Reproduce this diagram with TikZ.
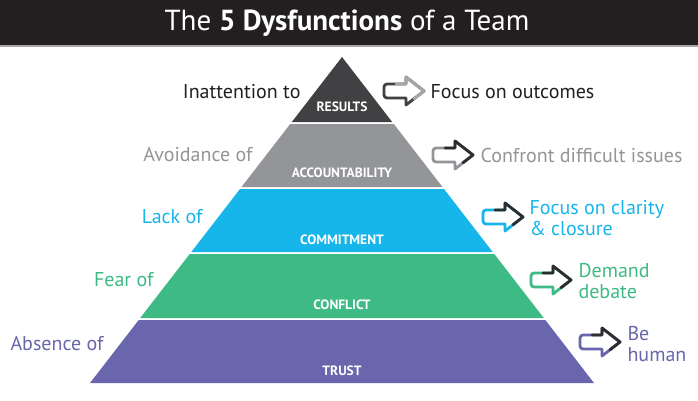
\documentclass[tikz,border=0pt]{standalone}
\usepackage{fontspec}
\setmainfont{PT Sans}
\definecolor{titlebg}{HTML}{231F20}
\definecolor{cres}{HTML}{414042}
\definecolor{cacc}{HTML}{939598}
\definecolor{ccom}{HTML}{16B6EA}
\definecolor{ccon}{HTML}{3EBA85}
\definecolor{ctru}{HTML}{6A66AD}
\definecolor{ctxt}{HTML}{231F20}
\definecolor{chead}{HTML}{2E2C2D}
\tikzset{
  layerlbl/.style={text=white, font=\bfseries\fontsize{13.5}{13.5}\selectfont, anchor=base},
  lefttxt/.style={anchor=east, font=\fontsize{20}{21}\selectfont},
  righttxt/.style={anchor=west, align=left, font=\fontsize{20}{21}\selectfont},
  pics/blockarrow/.style n args={2}{code={
    \draw[#1, line width=2.8pt, line join=round, fill=white]
      (22,-7) [rounded corners=3pt] -- (0,-7) -- (0,7) [sharp corners] -- (22,7) -- (22,14) -- (40,0) -- (22,-14) -- cycle;
    \draw[#2, line width=2.8pt, line join=round, line cap=round]
      (12,-7) -- (22,-7) -- (22,-14) -- (40,0) -- (30,7.7);
  }}
}
\begin{document}
\begin{tikzpicture}[x=1pt,y=-1pt]
\useasboundingbox (0,0) rectangle (698,400);
\fill[white] (0,0) rectangle (698,400);
% title bar
\fill[titlebg] (0,0) rectangle (698,45);
\fill[gray!70] (0,45) rectangle (698,46.5);
\node[text=white, font=\fontsize{29}{30}\selectfont] (title) at (347,23) {The \textbf{5 Dysfunctions} of a Team};
% pyramid layers
\fill[cres] (342,57) -- (392.2,122) -- (291.8,122) -- cycle;
\fill[cacc] (290.2,124) -- (393.8,124) -- (442.5,187) -- (241.5,187) -- cycle;
\fill[ccom] (240,189) -- (444,189) -- (492.7,252) -- (191.3,252) -- cycle;
\fill[ccon] (189.7,254) -- (494.3,254) -- (543.8,318) -- (140.2,318) -- cycle;
\fill[ctru] (138.7,320) -- (545.3,320) -- (594,383) -- (90,383) -- cycle;
% layer labels
\node[layerlbl] (lres) at (342,111) {RESULTS};
\node[layerlbl] (lacc) at (342,177) {ACCOUNTABILITY};
\node[layerlbl] (lcom) at (342,244) {COMMITMENT};
\node[layerlbl] (lcon) at (342,309) {CONFLICT};
\node[layerlbl] (ltru) at (342,375) {TRUST};
% left texts
\node[lefttxt, text=ctxt] (tres) at (304,92) {Inattention to};
\node[lefttxt, text=cacc] (tacc) at (256,155) {Avoidance of};
\node[lefttxt, text=ccom] (tcom) at (206,217) {Lack of};
\node[lefttxt, text=ccon] (tcon) at (157,280) {Fear of};
\node[lefttxt, text=ctru] (ttru) at (107,344) {Absence of};
% arrows
\pic at (384,91) {blockarrow={cres}{gray!70}};
\pic at (433,155) {blockarrow={cacc}{chead}};
\pic at (483,217) {blockarrow={ccom}{chead}};
\pic at (531,280) {blockarrow={ccon}{chead}};
\pic at (580,342) {blockarrow={ctru}{chead}};
% right texts
\node[righttxt, text=ctxt] (rres) at (427,92) {Focus on outcomes};
\node[righttxt, text=cacc] (racc) at (477,155) {Confront difficult issues};
\node[righttxt, text=ccom] (rcom) at (526,218) {Focus on clarity\\\& closure};
\node[righttxt, text=ccon] (rcon) at (575,281) {Demand\\debate};
\node[righttxt, text=ctru] (rtru) at (624,344) {Be\\human};
\end{tikzpicture}
\end{document}
